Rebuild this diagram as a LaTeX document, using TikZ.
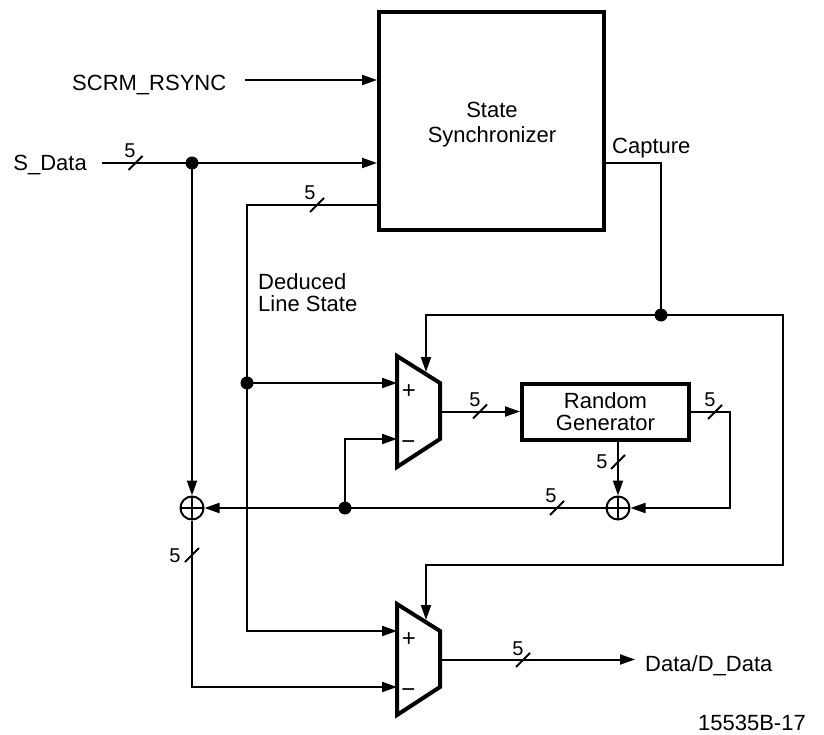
\documentclass[tikz,border=0pt]{standalone}
\usepackage{fontspec}
\setmainfont{Liberation Sans}
\usetikzlibrary{arrows.meta,calc}
\begin{document}
\begin{tikzpicture}[x=1pt,y=-1pt,
  wire/.style={line width=2pt},
  arr/.style={wire,-{Triangle[length=15pt,width=10pt]}},
  thickbox/.style={draw,line width=4pt,inner sep=0pt},
  lbl/.style={font=\fontsize{22}{22}\selectfont, inner sep=0pt},
  num/.style={font=\fontsize{20}{20}\selectfont, inner sep=0pt},
  sgn/.style={font=\fontsize{24}{24}\selectfont, inner sep=0pt},
  dot/.style={circle,fill,inner sep=0pt,minimum size=13pt},
  xorgate/.style={circle,draw,line width=2pt,inner sep=0pt,minimum size=23pt,
    path picture={\draw[line width=2pt]
      (path picture bounding box.north) -- (path picture bounding box.south)
      (path picture bounding box.west) -- (path picture bounding box.east);}},
  busmark/.pic={\draw[wire] (-7,7) -- (7,-7);},
  mux/.pic={
    \draw[line width=4pt, line join=miter] (0,0) -- (43,27) -- (43,83) -- (0,111) -- cycle;
    \coordinate (-p) at (0,27);
    \coordinate (-m) at (0,83);
    \coordinate (-o) at (43,55.5);
    \coordinate (-c) at (29,16);
    \node[sgn] at (12,36) {+};
    \node[sgn] at (11.5,89.5) {−};
  }
]
\fill[white] (0,0) rectangle (824,735);
\useasboundingbox (0,0) rectangle (824,735);

% blocks
\node[thickbox, minimum width=225pt, minimum height=218pt] (sync) at (491.5,121) {};
\node[lbl, align=center, font=\fontsize{22}{25}\selectfont] (synct) at (492,125) {State\\Synchronizer};
\node[thickbox, lbl, align=center, minimum width=167pt, minimum height=55.5pt] (rg) at (605.5,412) {Random\\Generator};

\pic (mA) at (397,356) {mux};
\pic (mB) at (397,604) {mux};

\node[xorgate] (xA) at (192,508) {};
\node[xorgate] (xB) at (618,508) {};

% junction dots
\node[dot] (dS) at (192,163) {};
\node[dot] (dL) at (247,383) {};
\node[dot] (dC) at (661,315) {};
\node[dot] (dX) at (345,508) {};

% texts
\node[lbl, anchor=base west] (scrm) at (72,91) {SCRM\_RSYNC};
\coordinate (scrmE) at (245,80);
\node[lbl, anchor=base east] (sdat) at (87,171) {S\_Data};
\coordinate (sdatE) at (102,163);
\node[lbl, anchor=base west] (capt) at (612,154) {Capture};
\node[lbl, anchor=north west, align=left] (ded) at (258,273.5) {Deduced\\Line State};
\node[lbl, anchor=base west, inner xsep=10pt] (ddat) at (635,671) {Data/D\_Data};
\node[lbl, anchor=base east] (fig) at (806,730) {15535B-17};

% corner coordinates
\coordinate (cR1) at (783,315);
\coordinate (cR2) at (783,565);
\coordinate (cRG) at (730,412);

% wires
\draw[arr] (scrmE) -- (scrmE -| sync.west);
\draw[arr] (sdatE) -- (sdatE -| sync.west);
\draw[arr] (sync.west |- 0,205) -| (dL.center) |- (mB-p);
\draw[arr] (dL.center) -- (mA-p);
\draw[wire] (sync.east |- 0,163) -| (dC.center);
\draw[arr] (dC.center) -| (mA-c);
\draw[arr] (dC.center) -- (cR1) -- (cR2) -| (mB-c);
\draw[arr] (mA-o) -- (rg.west |- mA-o);
\draw[arr] (rg.east) -- (cRG) |- (xB.east);
\draw[arr] (rg.south -| xB) -- (xB.north);
\draw[arr] (xB.west) -- (xA.east);
\draw[arr] (dX.center) |- (mA-m);
\draw[arr] (dS.center) -- (xA.north);
\draw[arr] (xA.south) |- (mB-m);
\draw[arr] (mB-o) -- (ddat.west |- mB-o);

% bus width marks
\pic at (135.5,163) {busmark}; \node[num] (n1) at (130,151) {5};
\pic at (317,205) {busmark};   \node[num] (n2) at (310,192.5) {5};
\pic at (480,411.5) {busmark}; \node[num] (n3) at (475,400) {5};
\pic at (715,412) {busmark};   \node[num] (n4) at (710,400) {5};
\pic at (618,462) {busmark};   \node[num] (n5) at (602,462) {5};
\pic at (557,508) {busmark};   \node[num] (n6) at (551,496) {5};
\pic at (192,555) {busmark};   \node[num] (n7) at (175,556) {5};
\pic at (523,660) {busmark};   \node[num] (n8) at (518,649) {5};
\end{tikzpicture}
\end{document}
